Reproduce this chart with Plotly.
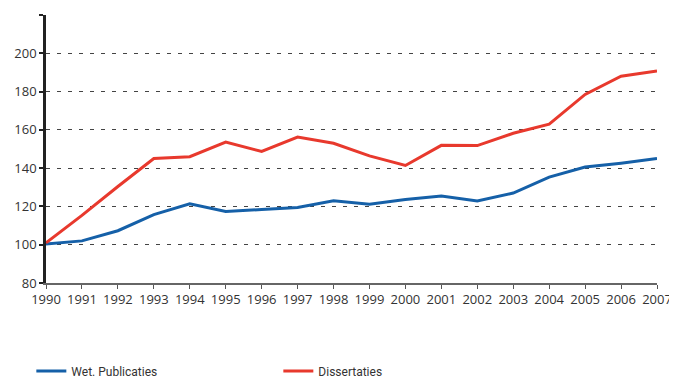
import plotly.graph_objects as go

years = list(range(1990, 2008))
wet_publicaties = [100.4, 102, 107.3, 115.7, 121.4, 117.4, 118.4, 119.5, 123, 121.2,
                   123.6, 125.4, 122.8, 127, 135.3, 140.6, 142.6, 145]
dissertaties = [101, 115.3, 130.4, 145, 146, 153.6, 148.7, 156.2, 153, 146.4,
                141.4, 151.9, 151.8, 158.2, 163, 178.5, 188, 190.8]
y_ticks = [80, 100, 120, 140, 160, 180, 200, 220]
y_ticktext = ["80", "100", "120", "140", "160", "180", "200", ""]

fig = go.Figure()
fig.add_trace(go.Scatter(x=years, y=wet_publicaties, mode="lines", name="Wet. Publicaties",
                         line=dict(color="#1560a8", width=3)))
fig.add_trace(go.Scatter(x=years, y=dissertaties, mode="lines", name="Dissertaties",
                         line=dict(color="#e8392d", width=3)))

tick_font = dict(family="Open Sans", size=13, color="#333333")
fig.update_layout(
    width=677, height=388,
    margin=dict(l=38, r=28, t=7, b=113),
    paper_bgcolor="white", plot_bgcolor="white",
    showlegend=True,
    legend=dict(orientation="h", x=-0.024, y=-0.328, xanchor="left", yanchor="middle",
                entrywidth=202, entrywidthmode="pixels",
                font=dict(family="Liberation Sans Narrow, Roboto", size=12, color="#333333"),
                bgcolor="rgba(0,0,0,0)"),
    xaxis=dict(range=[1990, 2007], tickvals=years, ticks="outside", ticklen=4,
               tickcolor="#555555", tickwidth=1, showline=True, linecolor="#666666",
               linewidth=1.5, showgrid=False, zeroline=False, tickfont=tick_font,
               tickangle=0, automargin=False),
    yaxis=dict(range=[80, 220], tickvals=y_ticks, ticktext=y_ticktext, ticks="outside",
               ticklen=4, tickcolor="#222222", tickwidth=1.5, showline=True,
               linecolor="#222222", linewidth=2.5, showgrid=True, gridcolor="#444444",
               griddash="4px,7px", gridwidth=1, zeroline=False, tickfont=tick_font,
               automargin=False),
)
fig.write_html("out.html")
